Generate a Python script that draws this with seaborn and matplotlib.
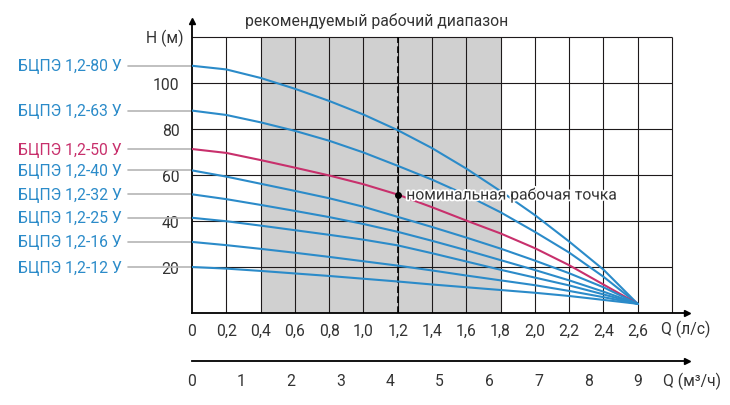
import numpy as np
import pandas as pd
import matplotlib
matplotlib.use('Agg')
import matplotlib.pyplot as plt
import matplotlib.patheffects as pe
import seaborn as sns

# расход, л/с
q_ls = [0, 0.2, 0.4, 0.6, 0.8, 1.0, 1.2, 1.4, 1.6, 1.8, 2.0, 2.2, 2.4, 2.6]

# напор, м
h_80 = [107.5, 105.9, 102.2, 97.5, 92.2, 86.3, 79.5, 71.7, 62.8, 53.0, 42.6, 31.1, 18.9, 4.0]
h_63 = [88.0, 86.1, 82.9, 79.2, 74.9, 69.8, 64.0, 58.0, 51.3, 43.8, 35.3, 26.3, 15.8, 4.0]
h_50 = [71.3, 69.6, 66.5, 63.2, 59.8, 56.0, 51.5, 46.0, 40.2, 34.6, 28.2, 20.8, 12.4, 4.0]
h_40 = [62.0, 59.3, 56.2, 53.1, 49.9, 46.2, 41.8, 37.4, 32.8, 28.0, 22.8, 17.3, 11.2, 4.0]
h_32 = [51.6, 49.5, 47.0, 44.4, 41.7, 38.7, 35.3, 31.4, 27.3, 23.0, 18.7, 14.2, 9.3, 4.0]
h_25 = [41.4, 39.9, 38.0, 36.0, 34.0, 31.9, 29.4, 26.0, 22.4, 18.8, 15.4, 12.0, 8.1, 4.0]
h_16 = [30.9, 29.5, 27.9, 26.2, 24.4, 22.5, 20.6, 18.5, 16.3, 14.2, 12.1, 9.6, 6.9, 4.0]
h_12 = [20.0, 19.3, 18.3, 17.2, 16.1, 14.9, 13.7, 12.4, 11.2, 10.0, 8.8, 7.4, 5.7, 4.0]

models = ['БЦПЭ 1,2-80 У', 'БЦПЭ 1,2-63 У', 'БЦПЭ 1,2-50 У', 'БЦПЭ 1,2-40 У',
          'БЦПЭ 1,2-32 У', 'БЦПЭ 1,2-25 У', 'БЦПЭ 1,2-16 У', 'БЦПЭ 1,2-12 У']
heads = [h_80, h_63, h_50, h_40, h_32, h_25, h_16, h_12]

x_ticks = [0, 0.2, 0.4, 0.6, 0.8, 1.0, 1.2, 1.4, 1.6, 1.8, 2.0, 2.2, 2.4, 2.6]
x_labels = ['0', '0,2', '0,4', '0,6', '0,8', '1,0', '1,2', '1,4', '1,6', '1,8',
            '2,0', '2,2', '2,4', '2,6']
y_ticks = [20, 40, 60, 80, 100]
m3h_ticks = [0, 1, 2, 3, 4, 5, 6, 7, 8, 9]

range_lo, range_hi = 0.4, 1.8
q_nom, h_nom = 1.2, 51.5

BLUE = '#2b8bc9'
PINK = '#c8306c'
TXT = '#333333'
GRID = '#1e1a1b'
FS = 11.3

df = pd.concat([pd.DataFrame({'Q': q_ls, 'H': h, 'model': m})
                for m, h in zip(models, heads)], ignore_index=True)
palette = {m: (PINK if '-50 ' in m else BLUE) for m in models}

sns.set_style('white')
plt.rcParams['font.family'] = ['Roboto', 'DejaVu Sans']
plt.rcParams['font.size'] = FS

W, H = 730, 406
fig = plt.figure(figsize=(W / 100, H / 100), dpi=100)

# пиксели опорных точек
x0, x_end, y0, y_top = 192, 686.7, 314, 22
px_per_q = 171.4
px_per_h = 2.3
xmax = (x_end - x0) / px_per_q
ymax = (y0 - y_top) / px_per_h

ax = fig.add_axes([x0 / W, 1 - y0 / H, (x_end - x0) / W, (y0 - y_top) / H])
ax.set_xlim(0, xmax)
ax.set_ylim(0, ymax)

# рабочий диапазон
ax.axvspan(range_lo, range_hi, ymin=0, ymax=120 / ymax, color='#d0d0d0', lw=0, zorder=0)

# сетка
grid_x = np.arange(0.2, 2.81, 0.2)
ax.vlines(grid_x, 0, 120, color=GRID, lw=0.8, zorder=1)
ax.hlines([20, 40, 60, 80, 100, 120], 0, 2.8, color=GRID, lw=0.8, zorder=1)
ax.vlines(q_nom, 0, 120, color='black', lw=1.2, linestyles=(0, (4, 2)), zorder=3)

sns.lineplot(data=df, x='Q', y='H', hue='model', palette=palette, linewidth=1.5,
             legend=False, ax=ax, zorder=4)

for m, h in zip(models, heads):
    ax.plot([-0.373, 0], [h[0], h[0]], color='#b5b5b5', lw=1.2, clip_on=False, zorder=1)
    ax.text(-0.41, h[0], m, color=palette[m], ha='right', va='center', fontsize=FS,
            clip_on=False)

ax.plot(q_nom, h_nom, 'o', color='black', ms=4, zorder=6)
ax.text(1.25, h_nom, 'номинальная рабочая точка', color=TXT, ha='left', va='center',
        fontsize=FS, zorder=5,
        path_effects=[pe.withStroke(linewidth=2.5, foreground='white')])

ax.set_xticks(x_ticks)
ax.set_xticklabels(x_labels, color=TXT)
ax.set_yticks(y_ticks)
ax.set_yticklabels([str(v) for v in y_ticks], color=TXT)
ax.tick_params(axis='x', length=0, pad=7, labelsize=FS)
ax.tick_params(axis='y', length=0, pad=9, labelsize=FS)
for lab in ax.get_yticklabels():
    lab.set_bbox(dict(facecolor='white', edgecolor='none', pad=1.5))
ax.set_xlabel('')
ax.set_ylabel('')

for s in ['top', 'right']:
    ax.spines[s].set_visible(False)
for s in ['left', 'bottom']:
    ax.spines[s].set_color('black')
    ax.spines[s].set_linewidth(1.3)
ax.plot(1, 0, '>', color='black', ms=5, transform=ax.transAxes, clip_on=False)
ax.plot(0, 1, '^', color='black', ms=5, transform=ax.transAxes, clip_on=False)

# вторая шкала, м3/ч
ax2 = fig.add_axes([x0 / W, 1 - 362 / H, (x_end - x0) / W, 0.001])
ax2.set_xlim(0, xmax * 9 / 2.6)
ax2.set_ylim(0, 1)
ax2.set_yticks([])
ax2.set_xticks(m3h_ticks)
ax2.set_xticklabels([str(v) for v in m3h_ticks], color=TXT)
ax2.tick_params(axis='x', direction='in', length=5, width=1.3, pad=9, labelsize=FS)
for s in ['top', 'right', 'left']:
    ax2.spines[s].set_visible(False)
ax2.spines['bottom'].set_color('black')
ax2.spines['bottom'].set_linewidth(1.3)
ax2.patch.set_alpha(0)
ax2.plot(1, 0, '>', color='black', ms=5, transform=ax2.transAxes, clip_on=False)

fig.text(377 / W, 1 - 21 / H, 'рекомендуемый рабочий диапазон', color=TXT,
         ha='center', va='center', fontsize=FS)
fig.text(183 / W, 1 - 38 / H, 'H (м)', color=TXT, ha='right', va='center', fontsize=FS)
fig.text(661 / W, 1 - 329 / H, 'Q (л/с)', color=TXT, ha='left', va='center', fontsize=FS)
fig.text(663 / W, 1 - 381 / H, 'Q (м³/ч)', color=TXT, ha='left', va='center', fontsize=FS)

fig.savefig('out.png', dpi=100)
plt.close(fig)
